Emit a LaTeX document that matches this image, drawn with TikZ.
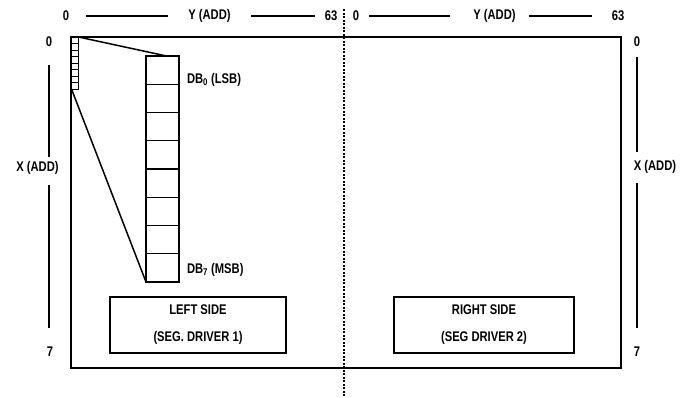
\documentclass[tikz,border=0pt]{standalone}
\usepackage{fontspec}
\setmainfont[FakeStretch=0.8]{Liberation Sans}
\usetikzlibrary{positioning, calc}

\begin{document}
\begin{tikzpicture}[x=1pt, y=-1pt, line width=1.5pt,
    font=\fontsize{14}{16}\selectfont\bfseries,
    lbl/.style={inner sep=0pt, outer sep=0pt},
    cell/.style={draw, line width=1.4pt, minimum width=33pt, minimum height=28.25pt, inner sep=0pt, outer sep=0pt},
    pix/.style={draw, line width=0.9pt, minimum width=7pt, minimum height=6.5pt, inner sep=0pt, outer sep=0pt},
    side/.style={draw, line width=1.7pt, minimum height=56pt, align=center}]
        \useasboundingbox (0,0) rectangle (690,397);

        % display area
        \node[draw, line width=2pt, minimum width=550pt, minimum height=331pt, anchor=north west, inner sep=0pt] (lcd) at (70,36) {};

        % one column of eight pixels, then the byte blown up
        \foreach \i in {0,...,7}
            \node[pix, anchor=north west] (s\i) at (71.5, 37+6.5*\i) {};
        \foreach \i in {0,...,7}
            \node[cell, anchor=north west] (b\i) at (146, 56+28.25*\i) {};
        \draw (s0.north east) -- ([xshift=4pt]b0.north);
        \draw (s7.south west) -- (b7.south west);
        \node[lbl, right=8pt of b0, yshift=-10pt] (lsb) {DB\textsubscript{0} (LSB)};
        \node[lbl, right=8pt of b7, yshift=-2pt] (msb) {DB\textsubscript{7} (MSB)};

        % the two halves
        \node[side, minimum width=176pt] (left) at (198,325) {LEFT SIDE\\[11pt](SEG. DRIVER 1)};
        \node[side, minimum width=180pt] (right) at (484,325) {RIGHT SIDE\\[11pt](SEG DRIVER 2)};
        \coordinate (dtop) at (344,9);
        \coordinate (dbot) at (344,397);
        \draw[line width=1.6pt, dash pattern=on 2pt off 1.5pt] (dtop) -- (dbot);

        % Y address, left
        \node[lbl] (ya0) at (66,16) {0};
        \node[lbl] (yal) at (209.5,16) {Y (ADD)};
        \node[lbl] (ya63) at (331,16) {63};
        \draw[shorten <=17pt, shorten >=20pt] (ya0.east) -- (yal.west);
        \draw[shorten <=20pt, shorten >=10pt] (yal.east) -- (ya63.west);

        % Y address, right
        \node[lbl] (yb0) at (356,16) {0};
        \node[lbl] (ybl) at (494.5,16) {Y (ADD)};
        \node[lbl] (yb63) at (618,16) {63};
        \draw[shorten <=10pt, shorten >=23pt] (yb0.east) -- (ybl.west);
        \draw[shorten <=13pt, shorten >=20pt] (ybl.east) -- (yb63.west);

        % X address, left
        \node[lbl] (xa0) at (49,42) {0};
        \node[lbl] (xal) at (37.5,168) {X (ADD)};
        \node[lbl] (xa7) at (50,352) {7};
        \draw[shorten <=18pt, shorten >=4.5pt] (xa0.south) -- (xa0.south |- xal.north);
        \draw[shorten <=10.5pt, shorten >=19pt] (xa0.south |- xal.south) -- (xa0.south |- xa7.north);

        % X address, right
        \node[lbl] (xb0) at (637,42) {0};
        \node[lbl] (xbl) at (655,167) {X (ADD)};
        \node[lbl] (xb7) at (637,352) {7};
        \draw[shorten <=10pt, shorten >=8.5pt] (xb0.south) -- (xb0.south |- xbl.north);
        \draw[shorten <=9.5pt, shorten >=19pt] (xb0.south |- xbl.south) -- (xb0.south |- xb7.north);
    \end{tikzpicture}
\end{document}
